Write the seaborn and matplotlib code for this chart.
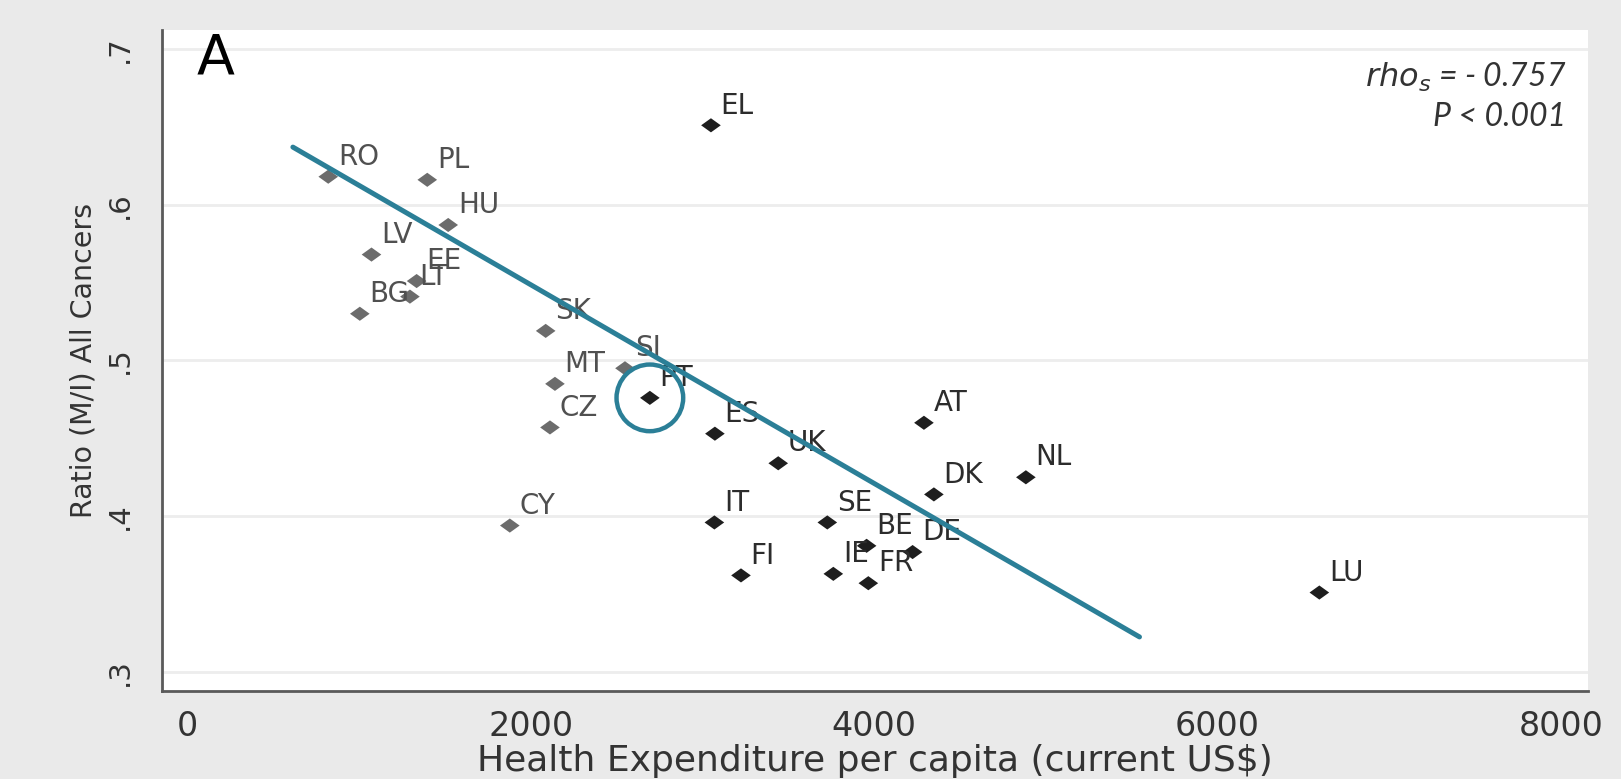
import seaborn as sns
import matplotlib.pyplot as plt
import pandas as pd

# country codes, health expenditure per capita (US$) and M/I ratio
countries = ["RO", "PL", "HU", "LV", "EE", "LT", "BG", "SK", "MT", "SI", "CZ", "CY",
             "EL", "PT", "ES", "UK", "IT", "FI", "SE", "BE", "DE", "IE", "FR", "AT", "DK", "NL", "LU"]
health_exp = [818, 1395, 1517, 1070, 1333, 1294, 1002, 2085, 2139, 2547, 2110, 1876,
              3048, 2692, 3071, 3440, 3068, 3223, 3726, 3955, 4223, 3761, 3965, 4289, 4347, 4883, 6593]
ratio = [0.618, 0.616, 0.587, 0.568, 0.551, 0.541, 0.530, 0.519, 0.485, 0.495, 0.457, 0.394,
         0.651, 0.476, 0.453, 0.434, 0.396, 0.362, 0.396, 0.381, 0.377, 0.363, 0.357, 0.460, 0.414, 0.425, 0.351]
groups = ["EU13"] * 12 + ["EU15"] * 15

# hand drawn trend line and highlighted country
trend_x = [612, 5545]
trend_y = [0.637, 0.3225]
highlight = "PT"

x_ticks = [0, 2000, 4000, 6000, 8000]
y_ticks = [0.3, 0.4, 0.5, 0.6, 0.7]
y_ticklabels = [".3", ".4", ".5", ".6", ".7"]

df = pd.DataFrame({"country": countries, "exp": health_exp, "ratio": ratio, "group": groups})

teal = "#2b7f97"
axis_col = "#5a5a5a"
palette = {"EU13": "#6c6c6c", "EU15": "#1e1e1e"}
label_col = {"EU13": "#505050", "EU15": "#2c2c2c"}

sns.set_style("white")
plt.rcParams["font.family"] = ["DejaVu Sans"]

fig = plt.figure(figsize=(16.21, 7.79), dpi=100, facecolor="#eaeaea")
ax = fig.add_axes([0.0999, 0.1130, 0.8797, 0.8485])
ax.set_facecolor("white")

for y in y_ticks:
    ax.axhline(y, color="#ededed", lw=2, zorder=0)

diamond = [(-1, 0), (0, -0.72), (1, 0), (0, 0.72), (-1, 0)]
sns.scatterplot(data=df, x="exp", y="ratio", hue="group", palette=palette, marker=diamond,
                s=200, linewidth=0, legend=False, ax=ax, zorder=3)

for _, r in df.iterrows():
    ax.annotate(r["country"], (r["exp"], r["ratio"]), xytext=(7, 8.5), textcoords="offset points",
                ha="left", va="baseline", fontsize=20, color=label_col[r["group"]], zorder=4)

sns.lineplot(x=trend_x, y=trend_y, color=teal, lw=3.6, ax=ax, zorder=5)

pt = df[df["country"] == highlight]
ax.scatter(pt["exp"], pt["ratio"], s=2304, facecolors="none", edgecolors=teal, linewidths=3.2, zorder=6)

ax.set_xlim(-151, 8158)
ax.set_ylim(0.2878, 0.7122)
ax.set_xticks(x_ticks)
ax.set_xticklabels([str(v) for v in x_ticks], fontsize=24, color="#333333")
ax.set_yticks(y_ticks)
ax.set_yticklabels(y_ticklabels, fontsize=21, rotation=90, va="center", color="#333333")
ax.tick_params(axis="y", length=12, width=1.5, color=axis_col, pad=8)
ax.tick_params(axis="x", length=9.5, width=1.5, color=axis_col, pad=4)

for side in ["top", "right"]:
    ax.spines[side].set_visible(False)
for side in ["left", "bottom"]:
    ax.spines[side].set_color(axis_col)
    ax.spines[side].set_linewidth(2)

ax.set_xlabel("Health Expenditure per capita (current US$)", fontsize=26, color="#333333", labelpad=1)
ax.set_ylabel("Ratio (M/I) All Cancers", fontsize=20.5, color="#333333", labelpad=6)

ax.text(0.024, 0.998, "A", transform=ax.transAxes, fontsize=40, va="top", ha="left", color="black")

ax.text(0.9846, 0.929, r"$\mathit{rho}_{\mathit{s}}$" + " = - 0.757", transform=ax.transAxes,
        ha="right", va="center", fontsize=23, style="italic", family=["Lato", "DejaVu Sans"], color="#333333")
ax.text(0.9846, 0.868, "P < 0.001", transform=ax.transAxes,
        ha="right", va="center", fontsize=23, style="italic", family=["Lato", "DejaVu Sans"], color="#333333")

fig.savefig("out.png", dpi=100, facecolor=fig.get_facecolor())
